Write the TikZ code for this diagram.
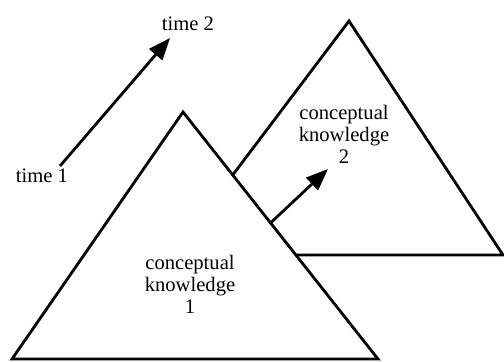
\documentclass[tikz,border=0pt]{standalone}
\usepackage{fontspec}
\setmainfont{Liberation Serif}
\usetikzlibrary{arrows.meta,calc}
\begin{document}
\begin{tikzpicture}[
            x=0.5pt, y=-0.5pt,
            edge/.style={line width=1.4pt, line join=miter},
            time arrow/.style={line width=1.4pt, -{Triangle[length=11pt, width=8.5pt]}},
            label text/.style={font=\fontsize{10.3}{11}\selectfont, align=center, inner sep=0pt}
        ]
        
        % Frame
        \useasboundingbox (0,0) rectangle (504,361);
        
        % Corners of triangle 1
        \coordinate (T1-top) at (183,112);
        \coordinate (T1-left) at (12,359);
        \coordinate (T1-right) at (378,359);
        
        % Corners of triangle 2
        \coordinate (T2-top) at (349,21);
        \coordinate (T2-right) at (503,255);
        \coordinate (T2-left) at ($(T1-top)!0.255!(T1-right)$);
        \coordinate (T2-base) at ($(T1-top)!0.579!(T1-right)$);
        
        % Triangle 1
        \draw[edge] (T1-top) -- (T1-right) -- (T1-left) -- cycle;
        
        % Triangle 2, partly behind triangle 1
        \draw[edge] (T2-left) -- (T2-top) -- (T2-right) -- (T2-base);
        
        % Labels
        \node[label text] (t1) at (42,176) {time 1};
        \node[label text] (t2) at (188,24) {time 2};
        \node[label text] (k1) at (190,284) {conceptual\\knowledge\\1};
        \node[label text] (k2) at (344,134) {conceptual\\knowledge\\2};
        
        % Arrow ends
        \coordinate (a1) at (60,166);
        \coordinate (a2) at (170,38);
        \coordinate (g1) at ($(T1-top)!0.449!(T1-right)$);
        \coordinate (g2) at (328,169);
        
        % Arrows
        \draw[time arrow] (a1) -- (a2);
        \draw[time arrow] (g1) -- (g2);
        
        \end{tikzpicture}
\end{document}
